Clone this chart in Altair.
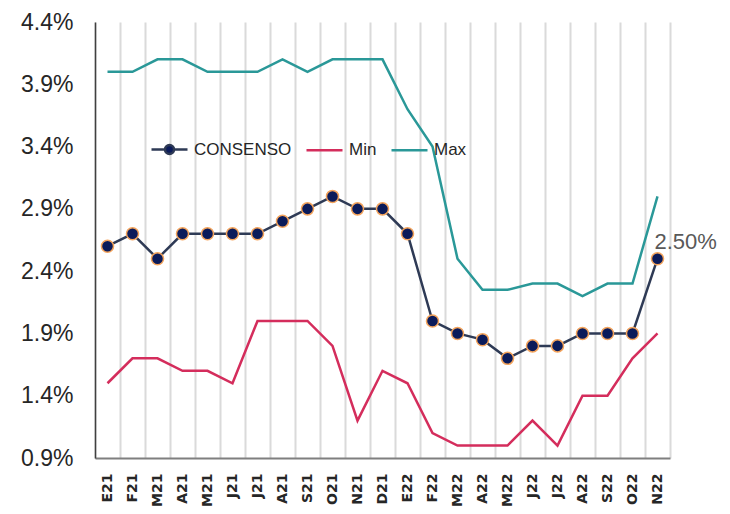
import altair as alt
import pandas as pd

meses = ["E21", "F21", "M21", "A21", "M21", "J21", "J21", "A21", "S21", "O21", "N21", "D21",
         "E22", "F22", "M22", "A22", "M22", "J22", "J22", "A22", "S22", "O22", "N22"]
consenso = [2.6, 2.7, 2.5, 2.7, 2.7, 2.7, 2.7, 2.8, 2.9, 3.0, 2.9, 2.9,
            2.7, 2.0, 1.9, 1.85, 1.7, 1.8, 1.8, 1.9, 1.9, 1.9, 2.5]
minimo = [1.5, 1.7, 1.7, 1.6, 1.6, 1.5, 2.0, 2.0, 2.0, 1.8, 1.2, 1.6,
          1.5, 1.1, 1.0, 1.0, 1.0, 1.2, 1.0, 1.4, 1.4, 1.7, 1.9]
maximo = [4.0, 4.0, 4.1, 4.1, 4.0, 4.0, 4.0, 4.1, 4.0, 4.1, 4.1, 4.1,
          3.7, 3.4, 2.5, 2.25, 2.25, 2.3, 2.3, 2.2, 2.3, 2.3, 3.0]
series = ["CONSENSO", "Min", "Max"]
colores = ["#2E3A55", "#D42D5C", "#2A9898"]
y_ticks = [0.9, 1.4, 1.9, 2.4, 2.9, 3.4, 3.9, 4.4]

rows = []
for name, vals in zip(series, [consenso, minimo, maximo]):
    for i, v in enumerate(vals):
        rows.append({"idx": i, "mes": meses[i], "serie": name, "valor": v})
df = pd.DataFrame(rows)

label_expr = "[" + ",".join("'%s'" % m for m in meses) + "][datum.value]"

x_enc = alt.X(
    "idx:O",
    bandPosition=0.5,
    scale=alt.Scale(type="band", paddingInner=0, paddingOuter=0),
    axis=alt.Axis(
        title=None, labelExpr=label_expr, labelAngle=270, labelFont="DejaVu Sans",
        labelFontWeight="bold", labelFontSize=14, labelColor="#262626",
        labelPadding=15, ticks=False, grid=True, gridColor="#DADADA", gridWidth=2,
        tickBand="extent", domainColor="#7F7F7F", domainWidth=2,
    ),
)
y_enc = alt.Y(
    "valor:Q",
    scale=alt.Scale(domain=[0.9, 4.4], nice=False, zero=False),
    axis=alt.Axis(
        title=None, values=y_ticks, labelExpr="format(datum.value, '.1f') + '%'",
        labelFont="Liberation Sans", labelFontSize=23, labelColor="#262626",
        labelPadding=22, ticks=False, grid=False, domainColor="#404040", domainWidth=1.5,
    ),
)

line_layers = []
for name, col in zip(series, colores):
    line_layers.append(
        alt.Chart(df).transform_filter(alt.datum.serie == name)
        .mark_line(strokeWidth=2.5, color=col)
        .encode(x=x_enc, y=y_enc, order="idx:O")
    )

points = alt.Chart(df).transform_filter(alt.datum.serie == "CONSENSO").mark_point(
    filled=True, size=145, fill="#0B1B5A", stroke="#F4A45C", strokeWidth=1.5, opacity=1
).encode(x=x_enc, y=y_enc)

legend_path = ("M-1,0L-0.25,0M0.25,0L1,0"
               "M-0.25,0A0.25,0.25 0 1,0 0.25,0A0.25,0.25 0 1,0 -0.25,0Z")
leg = dict(orient="none", direction="horizontal", legendX=55, legendY=108,
           symbolSize=1296, symbolStrokeWidth=2.5, symbolOpacity=1,
           labelFont="Liberation Sans", labelFontSize=17,
           labelColor="#262626", labelOffset=5, columnPadding=9, padding=0)
legend_layer = alt.Chart(df).mark_point(
    filled=False, fill="#0B1B5A", opacity=0, strokeWidth=2.5
).encode(
    x=x_enc,
    y=y_enc,
    color=alt.Color("serie:N", scale=alt.Scale(domain=series, range=colores), title=None,
                    legend=alt.Legend(**leg)),
    shape=alt.Shape("serie:N", scale=alt.Scale(domain=series, range=[legend_path, "stroke", "stroke"]),
                    title=None, legend=alt.Legend(**leg)),
)

annot = alt.Chart(df).transform_filter(
    (alt.datum.serie == "CONSENSO") & (alt.datum.idx == len(meses) - 1)
).transform_calculate(
    etiqueta="format(datum.valor, '.2f') + '%'"
).mark_text(
    align="left", baseline="middle", dx=-3, dy=-17, font="Liberation Sans",
    fontSize=22, color="#595959"
).encode(x=x_enc, y=y_enc, text="etiqueta:N")

chart = alt.layer(*line_layers, points, legend_layer, annot).properties(
    width=575, height=436,
    autosize=alt.AutoSizeParams(type="none"),
    padding={"left": 87, "top": 14, "right": 50, "bottom": 48},
    background="white",
).configure_view(stroke=None)

chart.save("out.html", embed_options={"renderer": "svg", "actions": False})
